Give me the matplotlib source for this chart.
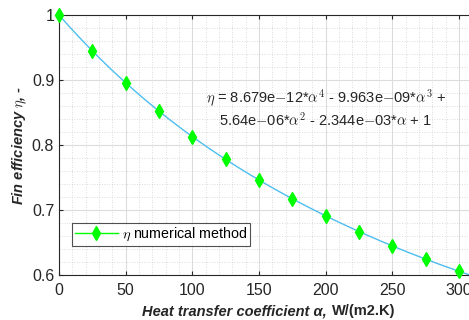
import numpy as np
import matplotlib
matplotlib.use('Agg')
import matplotlib.pyplot as plt
from matplotlib.ticker import MultipleLocator

# numerical results
alpha = [0, 25, 50, 75, 100, 125, 150, 175, 200, 225, 250, 275, 300]
eta = [1.0, 0.9448, 0.8957, 0.852, 0.8129, 0.7778, 0.7461, 0.7173,
       0.691, 0.6669, 0.6447, 0.6244, 0.6057]

# polynomial fit coefficients shown in the annotation (highest power first)
fit_coef = [8.679e-12, -9.963e-09, 5.64e-06, -2.344e-03, 1.0]

plt.rcParams['font.family'] = ['Liberation Sans', 'DejaVu Sans']
plt.rcParams['mathtext.fontset'] = 'cm'

fig = plt.figure(figsize=(4.69, 3.2), dpi=100)
ax = fig.add_axes([59 / 469, 45 / 320, 426.7 / 469, 260 / 320])

a_fit = np.linspace(0, 320, 400)
ax.plot(a_fit, np.polyval(fit_coef, a_fit), color='#4DBEEE', lw=1.0, zorder=2)
ax.plot(alpha, eta, linestyle='none', marker='d', ms=7, color='#00ff00',
        mec='#00ff00', zorder=3, clip_on=False)
# legend entry: green line with diamond
ax.plot([], [], color='#00ff00', lw=1.0, marker='d', ms=7,
        label=r'$\eta$ numerical method')

ax.set_xlim(0, 320)
ax.set_ylim(0.6, 1.0)
ax.xaxis.set_major_locator(MultipleLocator(50))
ax.xaxis.set_minor_locator(MultipleLocator(10))
ax.yaxis.set_minor_locator(MultipleLocator(0.02))
ax.set_yticks([0.6, 0.7, 0.8, 0.9, 1.0])
ax.set_yticklabels(['0.6', '0.7', '0.8', '0.9', '1'])

ax.grid(which='major', color='#dcdcdc', lw=0.8)
ax.grid(which='minor', color='#d0d0d0', lw=0.6, linestyle=(0, (1, 2)))
ax.set_axisbelow(True)

ax.tick_params(which='both', direction='in', top=True, right=True,
               labelsize=11.5, colors='#262626', length=3)
ax.tick_params(axis='x', pad=6)
ax.tick_params(which='minor', length=0)
for s in ax.spines.values():
    s.set_color('#262626')
    s.set_linewidth(0.8)

# x label: italic part + upright units
fig.text(331 / 469, 1 - 311 / 320, 'Heat transfer coefficient α, ', fontsize=10.5,
         fontweight='bold', fontstyle='italic', color='#262626',
         ha='right', va='center')
fig.text(332 / 469, 1 - 311 / 320, 'W/(m2.K)', fontsize=10.5,
         fontweight='bold', color='#262626', ha='left', va='center')
ax.set_ylabel(r'Fin efficiency $\eta$, -', fontsize=10.5,
              fontweight='bold', fontstyle='italic', color='#262626', labelpad=2)

ax.text(200, 0.857, r'$\eta$ = 8.679e$-$12*$\alpha^4$ - 9.963e$-$09*$\alpha^3$ +'
        '\n' r'5.64e$-$06*$\alpha^2$ - 2.344e$-$03*$\alpha$ + 1',
        ha='center', va='center', fontsize=10.5, color='#262626',
        linespacing=1.15)

leg = ax.legend(loc='lower left', bbox_to_anchor=(0.03, 0.1115), fontsize=10.3,
                frameon=True, fancybox=False, borderpad=0.2, borderaxespad=0,
                handlelength=3.0, handletextpad=0.3)
leg.get_frame().set_edgecolor('#262626')
leg.get_frame().set_linewidth(0.8)

fig.savefig('out.png', dpi=100)
